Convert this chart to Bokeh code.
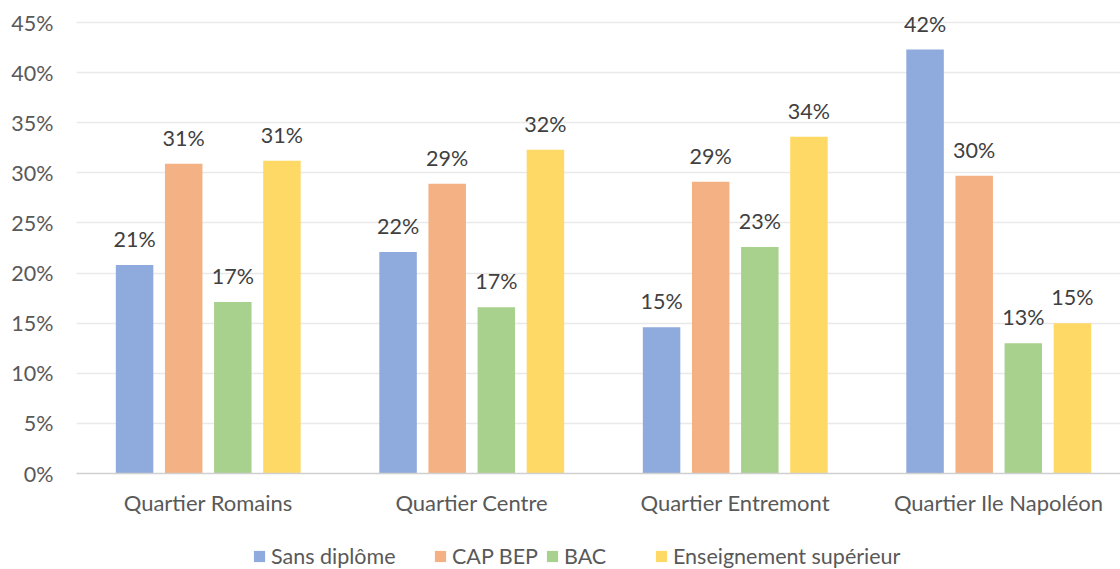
from bokeh.plotting import figure
from bokeh.layouts import column
from bokeh.models import ColumnDataSource, Legend, LegendItem, FixedTicker, Range1d, CustomJSTickFormatter
from bokeh.core.properties import value
from bokeh.embed import file_html
from bokeh.resources import INLINE

quartiers = ["Quartier Romains", "Quartier Centre", "Quartier Entremont", "Quartier Ile Napoléon"]
series_names = ["Sans diplôme", "CAP BEP", "BAC", "Enseignement supérieur"]
sans_diplome = [20.8, 22.1, 14.6, 42.3]
cap_bep = [30.9, 28.9, 29.1, 29.7]
bac = [17.1, 16.6, 22.6, 13.0]
ens_sup = [31.2, 32.3, 33.6, 15.0]
colors = ["#8FAADC", "#F4B183", "#A9D18E", "#FFD966"]
y_ticks = [0, 5, 10, 15, 20, 25, 30, 35, 40, 45]

FONT = "Lato"
W = 1120
CAT_PX = 263.5
FRAME_LEFT = 76
frame_w = W - FRAME_LEFT
x_end = frame_w / CAT_PX
PX_PER_PCT = 451 / 45
y_end = 45 + 22 / PX_PER_PCT   # room above the top gridline for the labels

p = figure(x_range=Range1d(0, x_end), y_range=Range1d(0, y_end),
           width=W, height=530, output_backend="svg", toolbar_location=None,
           min_border_left=FRAME_LEFT, min_border_right=0, min_border_top=0, min_border_bottom=57)
p.outline_line_color = None

centers = [i + 0.5 for i in range(len(quartiers))]
offsets = [-0.2796, -0.0932, 0.0932, 0.2796]
data = [sans_diplome, cap_bep, bac, ens_sup]
for name, vals, col, off in zip(series_names, data, colors, offsets):
    src = ColumnDataSource(dict(x=[c + off for c in centers], top=vals,
                                lab=[f"{round(v)}%" for v in vals]))
    p.vbar(x="x", top="top", width=0.1423, source=src, fill_color=col, line_color=None)
    p.text(x="x", y="top", text="lab", source=src,
           text_align="center", text_baseline="alphabetic", y_offset=-26,
           text_font=value(FONT), text_font_size="21.5px", text_color="#404040")

p.yaxis.ticker = FixedTicker(ticks=y_ticks)
p.yaxis.formatter = CustomJSTickFormatter(code="return tick + '%';")
p.yaxis.axis_line_color = None
p.yaxis.major_tick_line_color = None
p.yaxis.minor_tick_line_color = None
p.yaxis.major_tick_out = 0
p.yaxis.major_tick_in = 0
p.yaxis.major_label_text_font = FONT
p.yaxis.major_label_text_font_size = "21.5px"
p.yaxis.major_label_text_color = "#595959"
p.yaxis.major_label_standoff = 23

p.xaxis.ticker = FixedTicker(ticks=centers)
p.xaxis.major_label_overrides = {c: q for c, q in zip(centers, quartiers)}
p.xaxis.axis_line_color = "#D0D0D0"
p.xaxis.axis_line_width = 1.5
p.xaxis.major_tick_line_color = None
p.xaxis.minor_tick_line_color = None
p.xaxis.major_tick_out = 0
p.xaxis.major_tick_in = 0
p.xaxis.major_label_text_font = FONT
p.xaxis.major_label_text_font_size = "22px"
p.xaxis.major_label_text_color = "#595959"
p.xaxis.major_label_standoff = 15

p.xgrid.grid_line_color = None
p.ygrid.grid_line_color = "#E9E9E9"
p.ygrid.grid_line_width = 1.5

# legend strip (frame aligned with the main plot's frame by the column layout)
lg = figure(x_range=Range1d(0, 1), y_range=Range1d(0, 1), width=W, height=39,
            output_backend="svg", toolbar_location=None,
            min_border_left=0, min_border_right=0, min_border_top=0, min_border_bottom=0)
lg.outline_line_color = None
lg.axis.visible = False
lg.grid.visible = False
legend_x = [252, 433, 545, 654]
for name, col, lx in zip(series_names, colors, legend_x):
    r = lg.vbar(x=[5], top=[1], width=0.1, fill_color=col, line_color=None)
    leg = Legend(items=[LegendItem(label=name, renderers=[r])], location=(lx - FRAME_LEFT, 0),
                 label_text_font=FONT, label_text_font_size="21.5px", label_text_color="#595959",
                 glyph_width=14, glyph_height=14, label_standoff=5,
                 border_line_color=None, background_fill_alpha=0, padding=0, margin=0)
    lg.add_layout(leg)

layout = column(p, lg, spacing=0)
open("out.html", "w").write(file_html(layout, INLINE))
